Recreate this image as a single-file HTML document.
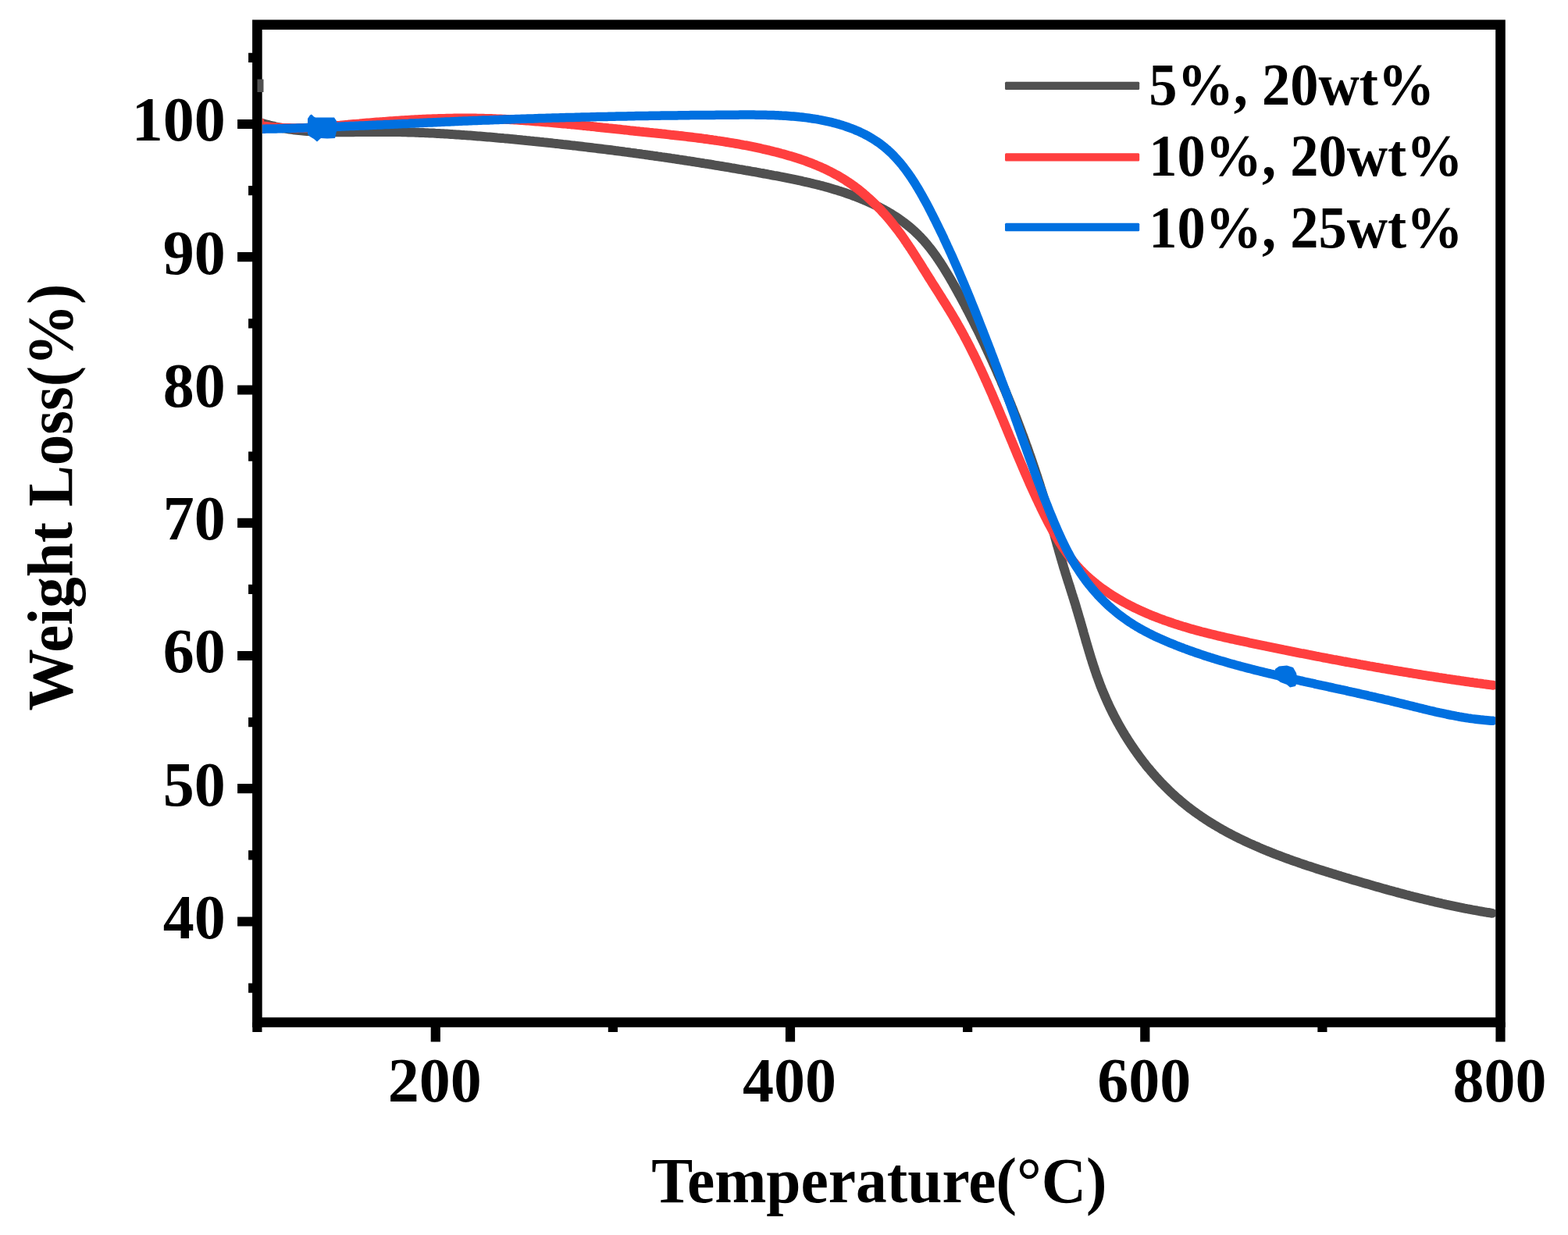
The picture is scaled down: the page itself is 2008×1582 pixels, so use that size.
<!DOCTYPE html>
<html><head><meta charset="utf-8"><title>TGA</title>
<style>html,body{margin:0;padding:0;background:#fff;width:2008px;height:1582px;overflow:hidden}svg{display:block}</style>
</head><body>
<svg width="2008" height="1582" viewBox="0 0 2008 1582">
<defs><clipPath id="pc"><rect x="336" y="38" width="1579" height="1265"/></clipPath></defs>
<rect width="2008" height="1582" fill="#fff"/>
<g clip-path="url(#pc)" stroke-linecap="round">
<path d="M335.3 157.8 337.8 158.5 340.4 159.2 342.9 159.9 345.4 160.6 347.9 161.2 350.4 161.7 352.9 162.3 355.4 162.8 357.9 163.3 360.4 163.8 362.9 164.3 365.4 164.7 367.9 165.1 370.4 165.5 372.9 165.8 375.4 166.2 377.9 166.5 380.4 166.8 382.9 167.1 385.4 167.3 387.9 167.5 390.4 167.8 392.9 168.0 395.4 168.1 397.9 168.3 400.4 168.5 402.9 168.6 405.4 168.7 407.9 168.8 410.4 168.9 412.9 169.0 415.4 169.1 417.9 169.1 420.4 169.2 422.9 169.2 425.4 169.3 427.9 169.3 430.4 169.3 432.9 169.3 435.4 169.3 437.9 169.3 440.4 169.3 442.9 169.3 445.4 169.3 447.9 169.2 450.4 169.2 452.8 169.2 455.3 169.1 457.8 169.1 460.3 169.1 462.8 169.0 465.3 169.0 467.8 169.0 470.3 169.0 472.8 168.9 475.3 168.9 477.8 168.9 480.3 168.9 482.8 168.9 485.2 168.9 487.7 168.9 490.2 168.9 492.7 168.9 495.2 168.9 497.7 168.9 500.2 168.9 502.7 169.0 505.2 169.0 507.7 169.1 510.1 169.1 512.6 169.1 515.1 169.2 517.6 169.3 520.1 169.3 522.6 169.4 525.1 169.5 527.6 169.5 530.1 169.6 532.5 169.7 535.0 169.8 537.5 169.9 540.0 170.0 542.5 170.1 545.0 170.2 547.5 170.3 549.9 170.4 552.4 170.5 554.9 170.6 557.4 170.8 559.9 170.9 562.4 171.0 564.9 171.2 567.3 171.3 569.8 171.5 572.3 171.6 574.8 171.7 577.3 171.9 579.8 172.1 582.2 172.2 584.7 172.4 587.2 172.5 589.7 172.7 592.2 172.9 594.7 173.1 597.1 173.2 599.6 173.4 602.1 173.6 604.6 173.8 607.1 174.0 609.6 174.2 612.0 174.4 614.5 174.6 617.0 174.8 619.5 175.0 622.0 175.2 624.4 175.4 626.9 175.6 629.4 175.8 631.9 176.0 634.4 176.2 636.9 176.5 639.3 176.7 641.8 176.9 644.3 177.1 646.8 177.4 649.3 177.6 651.7 177.8 654.2 178.1 656.7 178.3 659.2 178.5 661.7 178.8 664.1 179.0 666.6 179.2 669.1 179.5 671.6 179.7 674.0 180.0 676.5 180.2 679.0 180.5 681.5 180.7 684.0 181.0 686.4 181.2 688.9 181.5 691.4 181.8 693.9 182.0 696.4 182.3 698.8 182.5 701.3 182.8 703.8 183.1 706.3 183.3 708.7 183.6 711.2 183.9 713.7 184.1 716.2 184.4 718.7 184.7 721.1 185.0 723.6 185.2 726.1 185.5 728.6 185.8 731.0 186.1 733.5 186.4 736.0 186.6 738.5 186.9 741.0 187.2 743.4 187.5 745.9 187.8 748.4 188.1 750.9 188.4 753.3 188.7 755.8 189.0 758.3 189.3 760.8 189.6 763.3 189.9 765.7 190.2 768.2 190.5 770.7 190.8 773.2 191.1 775.6 191.4 778.1 191.7 780.6 192.0 783.1 192.3 785.5 192.6 788.0 193.0 790.5 193.3 793.0 193.6 795.4 193.9 797.9 194.2 800.4 194.6 802.9 194.9 805.4 195.2 807.8 195.6 810.3 195.9 812.8 196.2 815.3 196.6 817.7 196.9 820.2 197.2 822.7 197.6 825.2 197.9 827.6 198.3 830.1 198.6 832.6 199.0 835.1 199.3 837.6 199.7 840.0 200.0 842.5 200.4 845.0 200.7 847.5 201.1 849.9 201.4 852.4 201.8 854.9 202.1 857.4 202.5 859.8 202.9 862.3 203.2 864.8 203.6 867.3 204.0 869.8 204.4 872.2 204.7 874.7 205.1 877.2 205.5 879.7 205.9 882.1 206.2 884.6 206.6 887.1 207.0 889.6 207.4 892.0 207.8 894.5 208.2 897.0 208.6 899.5 209.0 902.0 209.4 904.4 209.7 906.9 210.1 909.4 210.5 911.9 210.9 914.3 211.4 916.8 211.8 919.3 212.2 921.8 212.6 924.3 213.0 926.7 213.4 929.2 213.8 931.7 214.2 934.2 214.6 936.7 215.1 939.1 215.5 941.6 215.9 944.1 216.3 946.6 216.8 949.1 217.2 951.5 217.6 954.0 218.1 956.5 218.5 959.0 218.9 961.4 219.4 963.9 219.8 966.4 220.2 968.9 220.7 971.4 221.1 973.8 221.6 976.3 222.0 978.8 222.5 981.3 222.9 983.8 223.4 986.3 223.8 988.7 224.3 991.2 224.8 993.7 225.2 996.2 225.7 998.6 226.2 1001.1 226.6 1003.6 227.1 1006.1 227.6 1008.5 228.1 1011.0 228.6 1013.5 229.1 1016.0 229.6 1018.4 230.1 1020.9 230.6 1023.3 231.2 1025.8 231.7 1028.3 232.3 1030.7 232.8 1033.2 233.4 1035.6 233.9 1038.0 234.5 1040.5 235.1 1042.9 235.7 1045.3 236.3 1047.8 236.9 1050.2 237.5 1052.6 238.1 1055.0 238.8 1057.4 239.4 1059.8 240.1 1062.2 240.8 1064.6 241.5 1067.0 242.2 1069.4 242.9 1071.8 243.6 1074.1 244.4 1076.5 245.1 1078.9 245.9 1081.2 246.7 1083.6 247.5 1085.9 248.3 1088.2 249.1 1090.6 249.9 1092.9 250.8 1095.2 251.7 1097.5 252.5 1099.8 253.5 1102.1 254.4 1104.4 255.3 1106.6 256.3 1108.9 257.2 1111.2 258.2 1113.4 259.2 1115.6 260.3 1117.9 261.3 1120.1 262.4 1122.3 263.5 1124.5 264.6 1126.7 265.7 1128.9 266.9 1131.1 268.0 1133.2 269.2 1135.4 270.4 1137.5 271.7 1139.6 272.9 1141.7 274.2 1143.8 275.5 1145.9 276.8 1147.9 278.1 1150.0 279.5 1152.0 280.9 1154.0 282.3 1156.0 283.8 1158.0 285.2 1159.9 286.7 1161.8 288.2 1163.7 289.8 1165.6 291.3 1167.5 292.9 1169.3 294.5 1171.1 296.2 1172.9 297.9 1174.7 299.6 1176.4 301.3 1178.2 303.0 1179.8 304.8 1181.5 306.6 1183.2 308.4 1184.8 310.3 1186.4 312.2 1188.0 314.1 1189.5 316.0 1191.1 317.9 1192.6 319.9 1194.1 321.9 1195.6 323.9 1197.0 325.9 1198.5 327.9 1199.9 330.0 1201.3 332.0 1202.7 334.1 1204.1 336.2 1205.5 338.3 1206.8 340.4 1208.2 342.5 1209.5 344.7 1210.8 346.8 1212.1 349.0 1213.4 351.1 1214.7 353.3 1216.0 355.5 1217.3 357.6 1218.5 359.8 1219.8 362.0 1221.0 364.2 1222.3 366.4 1223.5 368.6 1224.7 370.7 1225.9 372.9 1227.1 375.1 1228.3 377.3 1229.5 379.5 1230.7 381.7 1231.9 383.9 1233.1 386.1 1234.3 388.3 1235.5 390.5 1236.6 392.8 1237.8 395.0 1238.9 397.2 1240.1 399.4 1241.2 401.6 1242.4 403.8 1243.5 406.1 1244.6 408.3 1245.8 410.5 1246.9 412.7 1248.0 415.0 1249.1 417.2 1250.2 419.4 1251.4 421.7 1252.5 423.9 1253.6 426.2 1254.7 428.4 1255.7 430.7 1256.8 432.9 1257.9 435.2 1259.0 437.4 1260.1 439.7 1261.2 442.0 1262.2 444.2 1263.3 446.5 1264.4 448.8 1265.4 451.1 1266.5 453.3 1267.5 455.6 1268.6 457.9 1269.6 460.2 1270.7 462.5 1271.7 464.7 1272.7 467.0 1273.8 469.3 1274.8 471.6 1275.8 473.9 1276.8 476.2 1277.8 478.5 1278.8 480.8 1279.8 483.1 1280.9 485.4 1281.9 487.7 1282.8 490.1 1283.8 492.4 1284.8 494.7 1285.8 497.0 1286.8 499.3 1287.8 501.6 1288.7 504.0 1289.7 506.3 1290.7 508.6 1291.6 510.9 1292.6 513.3 1293.5 515.6 1294.5 517.9 1295.4 520.3 1296.3 522.6 1297.3 524.9 1298.2 527.3 1299.1 529.6 1300.1 532.0 1301.0 534.3 1301.9 536.7 1302.8 539.0 1303.7 541.4 1304.6 543.7 1305.5 546.1 1306.4 548.4 1307.3 550.8 1308.2 553.1 1309.0 555.5 1309.9 557.8 1310.8 560.2 1311.7 562.6 1312.5 564.9 1313.4 567.3 1314.2 569.7 1315.1 572.0 1315.9 574.4 1316.8 576.8 1317.6 579.1 1318.4 581.5 1319.3 583.9 1320.1 586.2 1320.9 588.6 1321.7 591.0 1322.5 593.4 1323.3 595.7 1324.1 598.1 1324.9 600.5 1325.7 602.9 1326.5 605.3 1327.3 607.6 1328.1 610.0 1328.8 612.4 1329.6 614.8 1330.4 617.2 1331.1 619.5 1331.9 621.9 1332.6 624.3 1333.4 626.7 1334.1 629.1 1334.9 631.5 1335.6 633.9 1336.3 636.3 1337.0 638.6 1337.7 641.0 1338.5 643.4 1339.2 645.8 1339.9 648.2 1340.6 650.6 1341.3 653.0 1341.9 655.4 1342.6 657.8 1343.3 660.2 1344.0 662.6 1344.7 664.9 1345.3 667.3 1346.0 669.7 1346.7 672.1 1347.3 674.5 1348.0 676.9 1348.7 679.3 1349.3 681.7 1350.0 684.1 1350.7 686.5 1351.3 688.9 1352.0 691.3 1352.7 693.7 1353.3 696.1 1354.0 698.5 1354.7 700.8 1355.4 703.2 1356.0 705.6 1356.7 708.0 1357.4 710.4 1358.1 712.8 1358.8 715.2 1359.5 717.6 1360.2 720.0 1360.9 722.4 1361.6 724.8 1362.3 727.2 1363.1 729.5 1363.8 731.9 1364.5 734.3 1365.3 736.7 1366.0 739.1 1366.8 741.5 1367.5 743.9 1368.3 746.3 1369.1 748.6 1369.8 751.0 1370.6 753.4 1371.3 755.8 1372.1 758.2 1372.8 760.6 1373.6 762.9 1374.3 765.3 1375.1 767.7 1375.8 770.1 1376.6 772.5 1377.3 774.8 1378.0 777.2 1378.7 779.6 1379.4 782.0 1380.1 784.3 1380.8 786.7 1381.5 789.1 1382.2 791.4 1382.9 793.8 1383.6 796.2 1384.3 798.6 1384.9 800.9 1385.6 803.3 1386.3 805.6 1387.0 808.0 1387.6 810.4 1388.3 812.7 1389.0 815.1 1389.7 817.4 1390.3 819.8 1391.0 822.2 1391.7 824.5 1392.4 826.9 1393.1 829.2 1393.8 831.6 1394.5 833.9 1395.2 836.2 1395.9 838.6 1396.6 840.9 1397.3 843.3 1398.1 845.6 1398.8 848.0 1399.5 850.3 1400.3 852.6 1401.1 855.0 1401.8 857.3 1402.6 859.6 1403.4 861.9 1404.2 864.3 1405.0 866.6 1405.9 868.9 1406.7 871.2 1407.6 873.6 1408.4 875.9 1409.3 878.2 1410.2 880.5 1411.1 882.8 1412.1 885.1 1413.0 887.4 1414.0 889.7 1415.0 892.0 1416.0 894.3 1417.0 896.6 1418.0 898.9 1419.0 901.2 1420.1 903.5 1421.2 905.8 1422.3 908.1 1423.4 910.3 1424.5 912.6 1425.7 914.9 1426.8 917.1 1428.0 919.4 1429.2 921.6 1430.4 923.9 1431.6 926.1 1432.9 928.4 1434.1 930.6 1435.4 932.8 1436.7 935.0 1438.0 937.2 1439.3 939.4 1440.6 941.6 1442.0 943.8 1443.4 946.0 1444.7 948.1 1446.1 950.3 1447.5 952.4 1448.9 954.6 1450.4 956.7 1451.8 958.8 1453.3 960.9 1454.8 963.0 1456.2 965.1 1457.7 967.2 1459.3 969.3 1460.8 971.3 1462.3 973.3 1463.9 975.4 1465.5 977.4 1467.0 979.4 1468.6 981.4 1470.2 983.4 1471.9 985.3 1473.5 987.3 1475.1 989.2 1476.8 991.2 1478.5 993.1 1480.2 995.0 1481.9 996.8 1483.6 998.7 1485.3 1000.6 1487.0 1002.4 1488.8 1004.2 1490.5 1006.0 1492.3 1007.8 1494.1 1009.6 1495.8 1011.3 1497.6 1013.1 1499.5 1014.8 1501.3 1016.5 1503.1 1018.2 1505.0 1019.8 1506.8 1021.5 1508.7 1023.1 1510.6 1024.7 1512.4 1026.3 1514.3 1027.9 1516.2 1029.5 1518.2 1031.0 1520.1 1032.6 1522.0 1034.1 1524.0 1035.6 1525.9 1037.0 1527.9 1038.5 1529.9 1040.0 1531.9 1041.4 1533.9 1042.8 1535.9 1044.2 1537.9 1045.6 1539.9 1047.0 1541.9 1048.3 1544.0 1049.7 1546.0 1051.0 1548.1 1052.3 1550.1 1053.6 1552.2 1054.9 1554.3 1056.2 1556.4 1057.4 1558.5 1058.7 1560.6 1059.9 1562.7 1061.1 1564.8 1062.4 1567.0 1063.6 1569.1 1064.7 1571.3 1065.9 1573.4 1067.1 1575.6 1068.2 1577.7 1069.4 1579.9 1070.5 1582.1 1071.6 1584.3 1072.7 1586.5 1073.8 1588.7 1074.9 1590.9 1075.9 1593.1 1077.0 1595.3 1078.0 1597.6 1079.1 1599.8 1080.1 1602.0 1081.1 1604.3 1082.1 1606.5 1083.1 1608.8 1084.1 1611.1 1085.1 1613.3 1086.1 1615.6 1087.1 1617.9 1088.0 1620.2 1089.0 1622.5 1089.9 1624.8 1090.8 1627.1 1091.7 1629.4 1092.7 1631.7 1093.6 1634.0 1094.5 1636.3 1095.4 1638.6 1096.2 1641.0 1097.1 1643.3 1098.0 1645.6 1098.9 1648.0 1099.7 1650.3 1100.6 1652.7 1101.4 1655.1 1102.3 1657.4 1103.1 1659.8 1103.9 1662.1 1104.7 1664.5 1105.6 1666.9 1106.4 1669.3 1107.2 1671.7 1108.0 1674.0 1108.8 1676.4 1109.6 1678.8 1110.3 1681.2 1111.1 1683.6 1111.9 1686.0 1112.7 1688.4 1113.5 1690.8 1114.2 1693.3 1115.0 1695.7 1115.8 1698.1 1116.5 1700.5 1117.3 1702.9 1118.0 1705.3 1118.8 1707.8 1119.5 1710.2 1120.3 1712.6 1121.0 1715.1 1121.7 1717.5 1122.5 1719.9 1123.2 1722.4 1124.0 1724.8 1124.7 1727.3 1125.4 1729.7 1126.2 1732.1 1126.9 1734.6 1127.6 1737.0 1128.3 1739.5 1129.1 1741.9 1129.8 1744.4 1130.5 1746.8 1131.2 1749.3 1131.9 1751.7 1132.6 1754.2 1133.3 1756.6 1134.0 1759.1 1134.7 1761.5 1135.4 1764.0 1136.1 1766.4 1136.8 1768.9 1137.5 1771.3 1138.2 1773.8 1138.9 1776.3 1139.6 1778.7 1140.3 1781.2 1140.9 1783.6 1141.6 1786.1 1142.3 1788.5 1142.9 1791.0 1143.6 1793.4 1144.2 1795.9 1144.9 1798.3 1145.5 1800.8 1146.2 1803.2 1146.8 1805.6 1147.5 1808.1 1148.1 1810.5 1148.7 1813.0 1149.3 1815.4 1149.9 1817.8 1150.6 1820.3 1151.2 1822.7 1151.8 1825.2 1152.4 1827.6 1152.9 1830.0 1153.5 1832.4 1154.1 1834.9 1154.7 1837.3 1155.3 1839.7 1155.8 1842.1 1156.4 1844.5 1156.9 1846.9 1157.5 1849.3 1158.0 1851.7 1158.6 1854.2 1159.1 1856.5 1159.6 1858.9 1160.1 1861.3 1160.6 1863.7 1161.1 1866.1 1161.6 1868.5 1162.1 1870.9 1162.6 1873.3 1163.1 1875.6 1163.6 1878.0 1164.0 1880.4 1164.5 1882.7 1164.9 1885.1 1165.4 1887.4 1165.8 1889.8 1166.2 1892.1 1166.7 1894.5 1167.1 1896.8 1167.5 1899.1 1167.9 1901.4 1168.3 1903.8 1168.7 1906.1 1169.0 1908.4 1169.4 1910.7 1169.8" fill="none" stroke="#505050" stroke-width="12" stroke-linejoin="round" />
<path d="M330 160L331 148.5L334 150L338 153L338 161Z" fill="#ff3f3f"/>
<path d="M335.8 161.3 338.3 161.7 340.8 162.0 343.3 162.3 345.8 162.6 348.3 162.9 350.8 163.1 353.3 163.3 355.9 163.5 358.4 163.7 360.9 163.8 363.4 163.9 365.9 164.0 368.4 164.1 370.9 164.1 373.4 164.2 375.8 164.2 378.3 164.2 380.8 164.2 383.3 164.1 385.8 164.1 388.3 164.0 390.8 163.9 393.3 163.8 395.8 163.7 398.3 163.5 400.8 163.4 403.3 163.3 405.7 163.1 408.2 162.9 410.7 162.7 413.2 162.6 415.7 162.4 418.2 162.2 420.7 162.0 423.1 161.8 425.6 161.5 428.1 161.3 430.6 161.1 433.1 160.9 435.5 160.7 438.0 160.4 440.5 160.2 443.0 160.0 445.5 159.8 447.9 159.5 450.4 159.3 452.9 159.1 455.4 158.9 457.9 158.7 460.3 158.5 462.8 158.2 465.3 158.0 467.8 157.8 470.2 157.6 472.7 157.4 475.2 157.2 477.7 157.0 480.1 156.8 482.6 156.6 485.1 156.4 487.6 156.2 490.0 156.1 492.5 155.9 495.0 155.7 497.5 155.5 499.9 155.3 502.4 155.2 504.9 155.0 507.4 154.8 509.8 154.7 512.3 154.5 514.8 154.3 517.3 154.2 519.7 154.0 522.2 153.9 524.7 153.7 527.2 153.6 529.7 153.5 532.1 153.3 534.6 153.2 537.1 153.1 539.6 153.0 542.0 152.8 544.5 152.7 547.0 152.6 549.5 152.5 551.9 152.4 554.4 152.3 556.9 152.3 559.4 152.2 561.9 152.1 564.3 152.0 566.8 151.9 569.3 151.9 571.8 151.8 574.3 151.8 576.8 151.7 579.2 151.7 581.7 151.6 584.2 151.6 586.7 151.6 589.2 151.6 591.7 151.6 594.1 151.5 596.6 151.5 599.1 151.6 601.6 151.6 604.1 151.6 606.6 151.6 609.1 151.6 611.6 151.7 614.1 151.7 616.6 151.8 619.0 151.8 621.5 151.9 624.0 151.9 626.5 152.0 629.0 152.1 631.5 152.2 634.0 152.3 636.5 152.4 639.0 152.5 641.5 152.6 644.0 152.7 646.5 152.8 649.0 152.9 651.5 153.1 654.0 153.2 656.5 153.3 659.0 153.5 661.5 153.6 664.0 153.8 666.5 153.9 669.0 154.1 671.5 154.3 674.0 154.4 676.5 154.6 679.0 154.8 681.6 155.0 684.1 155.2 686.6 155.4 689.1 155.6 691.6 155.8 694.1 156.0 696.6 156.2 699.1 156.4 701.6 156.6 704.1 156.8 706.6 157.0 709.1 157.2 711.6 157.5 714.1 157.7 716.6 157.9 719.2 158.2 721.7 158.4 724.2 158.6 726.7 158.9 729.2 159.1 731.7 159.4 734.2 159.6 736.7 159.8 739.2 160.1 741.7 160.3 744.2 160.6 746.7 160.9 749.2 161.1 751.7 161.4 754.2 161.6 756.7 161.9 759.3 162.1 761.8 162.4 764.3 162.7 766.8 162.9 769.3 163.2 771.8 163.5 774.3 163.7 776.8 164.0 779.3 164.3 781.8 164.5 784.3 164.8 786.8 165.1 789.3 165.3 791.8 165.6 794.3 165.8 796.8 166.1 799.3 166.4 801.8 166.6 804.3 166.9 806.8 167.2 809.3 167.4 811.8 167.7 814.3 168.0 816.8 168.2 819.3 168.5 821.7 168.7 824.2 169.0 826.7 169.2 829.2 169.5 831.7 169.8 834.2 170.0 836.7 170.3 839.2 170.5 841.7 170.8 844.2 171.1 846.6 171.3 849.1 171.6 851.6 171.8 854.1 172.1 856.6 172.4 859.0 172.7 861.5 172.9 864.0 173.2 866.5 173.5 869.0 173.8 871.4 174.0 873.9 174.3 876.4 174.6 878.9 174.9 881.3 175.2 883.8 175.5 886.3 175.8 888.7 176.1 891.2 176.4 893.7 176.7 896.1 177.0 898.6 177.3 901.1 177.7 903.5 178.0 906.0 178.3 908.4 178.7 910.9 179.0 913.4 179.4 915.8 179.7 918.3 180.1 920.7 180.4 923.2 180.8 925.6 181.2 928.1 181.6 930.5 182.0 932.9 182.4 935.4 182.8 937.8 183.2 940.3 183.6 942.7 184.0 945.1 184.4 947.6 184.9 950.0 185.3 952.4 185.8 954.9 186.2 957.3 186.7 959.7 187.2 962.2 187.7 964.6 188.2 967.0 188.7 969.4 189.2 971.8 189.7 974.3 190.2 976.7 190.8 979.1 191.3 981.5 191.9 983.9 192.4 986.3 193.0 988.7 193.6 991.1 194.2 993.5 194.8 995.9 195.4 998.3 196.0 1000.7 196.7 1003.1 197.3 1005.5 198.0 1007.9 198.7 1010.3 199.4 1012.7 200.1 1015.0 200.8 1017.4 201.5 1019.8 202.3 1022.1 203.0 1024.5 203.8 1026.8 204.6 1029.2 205.4 1031.5 206.2 1033.8 207.1 1036.1 208.0 1038.5 208.8 1040.8 209.7 1043.1 210.7 1045.4 211.6 1047.6 212.6 1049.9 213.5 1052.2 214.5 1054.4 215.6 1056.7 216.6 1058.9 217.7 1061.2 218.8 1063.4 219.9 1065.6 221.0 1067.8 222.2 1070.0 223.4 1072.2 224.6 1074.3 225.8 1076.5 227.1 1078.6 228.4 1080.8 229.7 1082.9 231.0 1085.0 232.4 1087.1 233.8 1089.2 235.2 1091.2 236.6 1093.3 238.1 1095.3 239.6 1097.3 241.2 1099.4 242.7 1101.3 244.3 1103.3 245.9 1105.3 247.5 1107.2 249.2 1109.2 250.9 1111.1 252.6 1113.0 254.3 1114.9 256.0 1116.7 257.8 1118.6 259.5 1120.4 261.3 1122.2 263.1 1124.0 264.9 1125.8 266.8 1127.6 268.6 1129.3 270.5 1131.0 272.4 1132.7 274.2 1134.4 276.1 1136.1 278.0 1137.7 279.9 1139.4 281.9 1141.0 283.8 1142.5 285.7 1144.1 287.7 1145.6 289.6 1147.1 291.6 1148.6 293.5 1150.1 295.5 1151.6 297.5 1153.0 299.4 1154.5 301.4 1155.9 303.4 1157.3 305.4 1158.7 307.4 1160.0 309.4 1161.4 311.4 1162.7 313.4 1164.1 315.4 1165.4 317.4 1166.8 319.4 1168.1 321.5 1169.4 323.5 1170.7 325.5 1172.0 327.6 1173.3 329.6 1174.6 331.7 1175.9 333.7 1177.2 335.8 1178.5 337.8 1179.8 339.9 1181.1 342.0 1182.3 344.1 1183.6 346.1 1185.0 348.2 1186.3 350.3 1187.6 352.4 1188.9 354.5 1190.2 356.6 1191.6 358.7 1192.9 360.8 1194.2 363.0 1195.6 365.1 1196.9 367.2 1198.3 369.3 1199.6 371.4 1201.0 373.6 1202.3 375.7 1203.7 377.9 1205.0 380.0 1206.4 382.2 1207.7 384.3 1209.1 386.5 1210.4 388.6 1211.8 390.8 1213.1 393.0 1214.4 395.1 1215.8 397.3 1217.1 399.5 1218.4 401.6 1219.7 403.8 1221.0 406.0 1222.3 408.2 1223.6 410.4 1224.8 412.6 1226.1 414.8 1227.3 417.0 1228.6 419.2 1229.8 421.4 1231.0 423.6 1232.3 425.8 1233.5 428.0 1234.7 430.3 1235.8 432.5 1237.0 434.7 1238.2 436.9 1239.4 439.2 1240.5 441.4 1241.7 443.6 1242.8 445.9 1243.9 448.1 1245.0 450.3 1246.2 452.6 1247.3 454.8 1248.4 457.1 1249.5 459.3 1250.6 461.6 1251.6 463.8 1252.7 466.1 1253.8 468.3 1254.8 470.6 1255.9 472.8 1257.0 475.1 1258.0 477.4 1259.0 479.6 1260.1 481.9 1261.1 484.2 1262.1 486.4 1263.2 488.7 1264.2 491.0 1265.2 493.3 1266.2 495.5 1267.2 497.8 1268.2 500.1 1269.2 502.4 1270.2 504.6 1271.2 506.9 1272.1 509.2 1273.1 511.5 1274.1 513.8 1275.1 516.1 1276.1 518.3 1277.0 520.6 1278.0 522.9 1279.0 525.2 1279.9 527.5 1280.9 529.8 1281.8 532.1 1282.8 534.4 1283.8 536.6 1284.7 538.9 1285.7 541.2 1286.6 543.5 1287.6 545.8 1288.5 548.1 1289.5 550.4 1290.4 552.7 1291.4 555.0 1292.3 557.3 1293.3 559.6 1294.2 561.9 1295.2 564.1 1296.1 566.4 1297.1 568.7 1298.0 571.0 1299.0 573.3 1299.9 575.6 1300.9 577.9 1301.8 580.2 1302.8 582.5 1303.8 584.8 1304.7 587.0 1305.7 589.3 1306.7 591.6 1307.6 593.9 1308.6 596.2 1309.6 598.5 1310.6 600.8 1311.5 603.0 1312.5 605.3 1313.5 607.6 1314.5 609.9 1315.5 612.2 1316.5 614.4 1317.5 616.7 1318.5 619.0 1319.5 621.3 1320.5 623.5 1321.6 625.8 1322.6 628.1 1323.6 630.3 1324.7 632.6 1325.7 634.9 1326.7 637.1 1327.8 639.4 1328.9 641.6 1329.9 643.9 1331.0 646.2 1332.1 648.4 1333.1 650.7 1334.2 652.9 1335.3 655.2 1336.4 657.4 1337.5 659.6 1338.7 661.9 1339.8 664.1 1340.9 666.3 1342.1 668.6 1343.2 670.8 1344.4 673.0 1345.6 675.2 1346.8 677.4 1348.0 679.6 1349.2 681.7 1350.4 683.9 1351.7 686.1 1353.0 688.2 1354.2 690.3 1355.5 692.5 1356.8 694.6 1358.2 696.7 1359.5 698.8 1360.9 700.8 1362.3 702.9 1363.7 704.9 1365.1 706.9 1366.5 709.0 1368.0 710.9 1369.5 712.9 1371.0 714.9 1372.5 716.8 1374.0 718.7 1375.6 720.6 1377.2 722.5 1378.8 724.4 1380.4 726.2 1382.1 728.1 1383.8 729.9 1385.5 731.6 1387.3 733.4 1389.0 735.1 1390.8 736.8 1392.6 738.5 1394.5 740.2 1396.3 741.8 1398.2 743.4 1400.1 745.0 1402.1 746.6 1404.0 748.2 1406.0 749.7 1407.9 751.2 1409.9 752.7 1411.9 754.2 1414.0 755.6 1416.0 757.0 1418.1 758.5 1420.1 759.8 1422.2 761.2 1424.3 762.6 1426.4 763.9 1428.5 765.2 1430.7 766.5 1432.8 767.7 1435.0 769.0 1437.1 770.2 1439.3 771.4 1441.4 772.6 1443.6 773.8 1445.8 774.9 1448.0 776.1 1450.2 777.2 1452.4 778.3 1454.7 779.4 1456.9 780.4 1459.1 781.5 1461.4 782.5 1463.6 783.5 1465.9 784.5 1468.1 785.5 1470.4 786.5 1472.7 787.4 1475.0 788.4 1477.3 789.3 1479.6 790.2 1481.9 791.1 1484.2 792.0 1486.5 792.9 1488.8 793.7 1491.1 794.6 1493.5 795.4 1495.8 796.2 1498.1 797.0 1500.5 797.8 1502.8 798.6 1505.2 799.4 1507.6 800.1 1509.9 800.9 1512.3 801.6 1514.7 802.4 1517.1 803.1 1519.5 803.8 1521.8 804.5 1524.2 805.2 1526.6 805.9 1529.0 806.5 1531.4 807.2 1533.9 807.9 1536.3 808.5 1538.7 809.2 1541.1 809.8 1543.5 810.4 1545.9 811.0 1548.4 811.6 1550.8 812.2 1553.2 812.8 1555.7 813.4 1558.1 814.0 1560.5 814.6 1563.0 815.2 1565.4 815.7 1567.9 816.3 1570.3 816.9 1572.8 817.4 1575.2 818.0 1577.7 818.5 1580.1 819.0 1582.6 819.6 1585.0 820.1 1587.5 820.6 1589.9 821.2 1592.4 821.7 1594.8 822.2 1597.3 822.7 1599.7 823.3 1602.2 823.8 1604.7 824.3 1607.1 824.8 1609.6 825.3 1612.0 825.8 1614.5 826.3 1616.9 826.8 1619.4 827.3 1621.8 827.9 1624.3 828.4 1626.7 828.9 1629.2 829.4 1631.6 829.9 1634.1 830.4 1636.5 830.9 1639.0 831.4 1641.4 831.9 1643.9 832.4 1646.3 832.8 1648.8 833.3 1651.2 833.8 1653.7 834.3 1656.1 834.8 1658.6 835.3 1661.0 835.8 1663.5 836.3 1665.9 836.8 1668.4 837.2 1670.8 837.7 1673.3 838.2 1675.7 838.7 1678.2 839.1 1680.6 839.6 1683.1 840.1 1685.5 840.6 1688.0 841.0 1690.4 841.5 1692.8 842.0 1695.3 842.5 1697.7 842.9 1700.2 843.4 1702.6 843.8 1705.1 844.3 1707.5 844.8 1710.0 845.2 1712.4 845.7 1714.9 846.1 1717.3 846.6 1719.8 847.1 1722.2 847.5 1724.7 848.0 1727.1 848.4 1729.6 848.9 1732.0 849.3 1734.5 849.7 1736.9 850.2 1739.4 850.6 1741.8 851.1 1744.3 851.5 1746.7 852.0 1749.2 852.4 1751.6 852.8 1754.1 853.3 1756.5 853.7 1759.0 854.1 1761.4 854.6 1763.9 855.0 1766.3 855.4 1768.8 855.8 1771.2 856.3 1773.7 856.7 1776.1 857.1 1778.6 857.5 1781.0 857.9 1783.5 858.4 1786.0 858.8 1788.4 859.2 1790.9 859.6 1793.3 860.0 1795.8 860.4 1798.2 860.8 1800.7 861.2 1803.2 861.6 1805.6 862.0 1808.1 862.4 1810.5 862.8 1813.0 863.2 1815.5 863.6 1817.9 864.0 1820.4 864.4 1822.8 864.8 1825.3 865.2 1827.8 865.6 1830.2 866.0 1832.7 866.3 1835.2 866.7 1837.6 867.1 1840.1 867.5 1842.6 867.9 1845.0 868.2 1847.5 868.6 1850.0 869.0 1852.5 869.4 1854.9 869.7 1857.4 870.1 1859.9 870.5 1862.4 870.8 1864.8 871.2 1867.3 871.5 1869.8 871.9 1872.3 872.3 1874.7 872.6 1877.2 873.0 1879.7 873.3 1882.2 873.7 1884.7 874.0 1887.2 874.4 1889.6 874.7 1892.1 875.1 1894.6 875.4 1897.1 875.7 1899.6 876.1 1902.1 876.4 1904.6 876.8 1907.1 877.1 1909.6 877.4 1912.0 877.7" fill="none" stroke="#ff3f3f" stroke-width="12" stroke-linejoin="round" />
<path d="M336.2 165.2 338.7 165.2 341.2 165.1 343.6 165.1 346.1 165.0 348.5 165.0 351.0 164.9 353.5 164.9 356.0 164.8 358.4 164.8 360.9 164.7 363.4 164.6 365.8 164.6 368.3 164.5 370.8 164.4 373.3 164.3 375.8 164.3 378.2 164.2 380.7 164.1 383.2 164.0 385.7 164.0 388.2 163.9 390.7 163.8 393.1 163.7 395.6 163.6 398.1 163.6 400.6 163.5 403.1 163.4 405.6 163.3 408.1 163.2 410.6 163.1 413.1 163.0 415.6 162.9 418.1 162.8 420.6 162.7 423.1 162.6 425.6 162.5 428.0 162.5 430.5 162.4 433.0 162.3 435.5 162.2 438.0 162.0 440.5 161.9 443.0 161.8 445.6 161.7 448.1 161.6 450.6 161.5 453.1 161.4 455.6 161.3 458.1 161.2 460.6 161.1 463.1 161.0 465.6 160.9 468.1 160.8 470.6 160.7 473.1 160.5 475.6 160.4 478.1 160.3 480.6 160.2 483.1 160.1 485.6 160.0 488.1 159.9 490.7 159.8 493.2 159.6 495.7 159.5 498.2 159.4 500.7 159.3 503.2 159.2 505.7 159.1 508.2 159.0 510.7 158.8 513.2 158.7 515.7 158.6 518.2 158.5 520.7 158.4 523.3 158.3 525.8 158.1 528.3 158.0 530.8 157.9 533.3 157.8 535.8 157.7 538.3 157.6 540.8 157.5 543.3 157.3 545.8 157.2 548.3 157.1 550.8 157.0 553.3 156.9 555.8 156.8 558.3 156.7 560.8 156.5 563.3 156.4 565.8 156.3 568.3 156.2 570.8 156.1 573.4 156.0 575.9 155.9 578.4 155.8 580.8 155.7 583.3 155.6 585.8 155.5 588.3 155.3 590.8 155.2 593.3 155.1 595.8 155.0 598.3 154.9 600.8 154.8 603.3 154.7 605.8 154.6 608.3 154.5 610.8 154.4 613.3 154.3 615.8 154.2 618.3 154.1 620.7 154.0 623.2 153.9 625.7 153.9 628.2 153.8 630.7 153.7 633.2 153.6 635.7 153.5 638.2 153.4 640.6 153.3 643.1 153.2 645.6 153.1 648.1 153.0 650.6 152.9 653.1 152.9 655.5 152.8 658.0 152.7 660.5 152.6 663.0 152.5 665.5 152.4 668.0 152.3 670.4 152.3 672.9 152.2 675.4 152.1 677.9 152.0 680.4 151.9 682.8 151.9 685.3 151.8 687.8 151.7 690.3 151.6 692.8 151.6 695.2 151.5 697.7 151.4 700.2 151.3 702.7 151.3 705.2 151.2 707.6 151.1 710.1 151.0 712.6 151.0 715.1 150.9 717.6 150.8 720.0 150.8 722.5 150.7 725.0 150.6 727.5 150.6 729.9 150.5 732.4 150.4 734.9 150.4 737.4 150.3 739.9 150.2 742.3 150.2 744.8 150.1 747.3 150.1 749.8 150.0 752.3 149.9 754.8 149.9 757.2 149.8 759.7 149.8 762.2 149.7 764.7 149.6 767.2 149.6 769.6 149.5 772.1 149.5 774.6 149.4 777.1 149.4 779.6 149.3 782.1 149.3 784.6 149.2 787.0 149.2 789.5 149.1 792.0 149.1 794.5 149.0 797.0 149.0 799.5 148.9 802.0 148.9 804.5 148.8 806.9 148.8 809.4 148.7 811.9 148.7 814.4 148.6 816.9 148.6 819.4 148.6 821.9 148.5 824.4 148.5 826.9 148.4 829.4 148.4 831.9 148.3 834.4 148.3 836.9 148.3 839.4 148.2 841.9 148.2 844.4 148.2 846.9 148.1 849.4 148.1 851.9 148.1 854.4 148.0 856.9 148.0 859.4 147.9 861.9 147.9 864.4 147.9 866.9 147.9 869.4 147.8 871.9 147.8 874.4 147.8 877.0 147.7 879.5 147.7 882.0 147.7 884.5 147.6 887.0 147.6 889.5 147.6 892.0 147.6 894.6 147.5 897.1 147.5 899.6 147.5 902.1 147.5 904.6 147.4 907.2 147.4 909.7 147.4 912.2 147.4 914.7 147.4 917.3 147.3 919.8 147.3 922.3 147.3 924.9 147.3 927.4 147.3 929.9 147.2 932.5 147.2 935.0 147.2 937.5 147.2 940.1 147.2 942.6 147.2 945.2 147.2 947.7 147.1 950.3 147.1 952.8 147.1 955.3 147.1 957.9 147.1 960.4 147.1 963.0 147.1 965.5 147.1 968.1 147.2 970.6 147.2 973.2 147.2 975.7 147.2 978.2 147.3 980.8 147.3 983.3 147.4 985.8 147.5 988.4 147.5 990.9 147.6 993.4 147.7 996.0 147.8 998.5 147.9 1001.0 148.1 1003.5 148.2 1006.1 148.3 1008.6 148.5 1011.1 148.7 1013.6 148.9 1016.1 149.1 1018.6 149.3 1021.1 149.5 1023.6 149.8 1026.0 150.0 1028.5 150.3 1031.0 150.6 1033.5 150.9 1035.9 151.2 1038.4 151.6 1040.8 152.0 1043.3 152.3 1045.7 152.7 1048.2 153.2 1050.6 153.6 1053.0 154.1 1055.4 154.6 1057.8 155.1 1060.2 155.6 1062.6 156.1 1065.0 156.7 1067.4 157.3 1069.8 157.9 1072.1 158.6 1074.5 159.2 1076.8 159.9 1079.1 160.6 1081.5 161.4 1083.8 162.2 1086.1 163.0 1088.3 163.8 1090.6 164.6 1092.9 165.5 1095.1 166.4 1097.3 167.4 1099.5 168.3 1101.7 169.3 1103.9 170.4 1106.0 171.4 1108.2 172.5 1110.3 173.6 1112.4 174.8 1114.5 176.0 1116.6 177.2 1118.6 178.5 1120.6 179.8 1122.6 181.1 1124.6 182.4 1126.6 183.8 1128.5 185.3 1130.4 186.7 1132.3 188.2 1134.2 189.8 1136.0 191.3 1137.8 193.0 1139.6 194.6 1141.4 196.3 1143.1 198.0 1144.8 199.8 1146.5 201.6 1148.2 203.4 1149.8 205.2 1151.5 207.1 1153.1 209.0 1154.7 210.9 1156.2 212.9 1157.8 214.9 1159.3 216.9 1160.8 218.9 1162.3 221.0 1163.8 223.0 1165.2 225.1 1166.7 227.2 1168.1 229.4 1169.5 231.5 1170.9 233.7 1172.3 235.9 1173.6 238.1 1175.0 240.3 1176.3 242.5 1177.6 244.7 1178.9 247.0 1180.2 249.2 1181.5 251.5 1182.7 253.8 1184.0 256.1 1185.2 258.3 1186.5 260.6 1187.7 262.9 1188.9 265.2 1190.1 267.5 1191.3 269.8 1192.4 272.1 1193.6 274.4 1194.8 276.7 1195.9 279.0 1197.1 281.3 1198.2 283.6 1199.4 285.9 1200.5 288.2 1201.6 290.5 1202.7 292.7 1203.8 295.0 1204.9 297.3 1206.0 299.6 1207.1 301.8 1208.2 304.1 1209.2 306.4 1210.3 308.7 1211.3 310.9 1212.4 313.2 1213.4 315.5 1214.5 317.7 1215.5 320.0 1216.5 322.3 1217.6 324.5 1218.6 326.8 1219.6 329.0 1220.6 331.3 1221.6 333.6 1222.6 335.8 1223.6 338.1 1224.6 340.4 1225.6 342.6 1226.6 344.9 1227.5 347.1 1228.5 349.4 1229.5 351.7 1230.4 353.9 1231.4 356.2 1232.3 358.4 1233.3 360.7 1234.3 363.0 1235.2 365.2 1236.1 367.5 1237.1 369.8 1238.0 372.0 1239.0 374.3 1239.9 376.6 1240.8 378.8 1241.7 381.1 1242.7 383.4 1243.6 385.7 1244.5 388.0 1245.4 390.2 1246.3 392.5 1247.3 394.8 1248.2 397.1 1249.1 399.4 1250.0 401.7 1250.9 404.0 1251.8 406.3 1252.7 408.5 1253.6 410.8 1254.5 413.2 1255.4 415.5 1256.3 417.8 1257.2 420.1 1258.1 422.4 1259.0 424.7 1259.9 427.0 1260.8 429.3 1261.7 431.6 1262.6 434.0 1263.5 436.3 1264.4 438.6 1265.3 440.9 1266.2 443.3 1267.1 445.6 1268.0 447.9 1268.9 450.2 1269.7 452.6 1270.6 454.9 1271.5 457.2 1272.4 459.6 1273.3 461.9 1274.1 464.3 1275.0 466.6 1275.9 468.9 1276.8 471.3 1277.6 473.6 1278.5 476.0 1279.4 478.3 1280.2 480.7 1281.1 483.0 1282.0 485.4 1282.8 487.7 1283.7 490.1 1284.6 492.4 1285.4 494.8 1286.3 497.1 1287.2 499.5 1288.0 501.8 1288.9 504.2 1289.7 506.5 1290.6 508.9 1291.4 511.3 1292.3 513.6 1293.1 516.0 1294.0 518.3 1294.8 520.7 1295.7 523.1 1296.5 525.4 1297.4 527.8 1298.2 530.1 1299.1 532.5 1299.9 534.9 1300.7 537.2 1301.6 539.6 1302.4 541.9 1303.3 544.3 1304.1 546.7 1304.9 549.0 1305.8 551.4 1306.6 553.7 1307.4 556.1 1308.3 558.5 1309.1 560.8 1310.0 563.2 1310.8 565.6 1311.6 567.9 1312.5 570.3 1313.3 572.6 1314.2 575.0 1315.0 577.3 1315.8 579.7 1316.7 582.1 1317.5 584.4 1318.4 586.8 1319.2 589.1 1320.1 591.5 1320.9 593.8 1321.8 596.2 1322.6 598.5 1323.5 600.9 1324.3 603.2 1325.2 605.6 1326.1 607.9 1326.9 610.3 1327.8 612.6 1328.7 615.0 1329.5 617.3 1330.4 619.7 1331.3 622.0 1332.2 624.4 1333.1 626.7 1334.0 629.0 1334.8 631.4 1335.7 633.7 1336.6 636.0 1337.5 638.4 1338.4 640.7 1339.3 643.0 1340.3 645.4 1341.2 647.7 1342.1 650.0 1343.0 652.3 1343.9 654.7 1344.9 657.0 1345.8 659.3 1346.8 661.6 1347.7 663.9 1348.7 666.2 1349.6 668.5 1350.6 670.8 1351.6 673.1 1352.6 675.4 1353.6 677.7 1354.6 680.0 1355.6 682.3 1356.6 684.5 1357.6 686.8 1358.7 689.1 1359.7 691.3 1360.8 693.6 1361.9 695.8 1363.0 698.0 1364.1 700.2 1365.2 702.5 1366.3 704.7 1367.5 706.9 1368.6 709.0 1369.8 711.2 1371.0 713.4 1372.2 715.6 1373.4 717.7 1374.7 719.8 1375.9 722.0 1377.2 724.1 1378.5 726.2 1379.8 728.3 1381.2 730.3 1382.5 732.4 1383.9 734.5 1385.3 736.5 1386.7 738.5 1388.2 740.5 1389.6 742.5 1391.1 744.5 1392.6 746.5 1394.1 748.4 1395.7 750.4 1397.3 752.3 1398.8 754.2 1400.5 756.1 1402.1 758.0 1403.7 759.8 1405.4 761.7 1407.1 763.5 1408.8 765.3 1410.5 767.1 1412.3 768.8 1414.0 770.6 1415.8 772.3 1417.6 774.0 1419.4 775.7 1421.3 777.4 1423.1 779.0 1425.0 780.6 1426.9 782.2 1428.8 783.8 1430.8 785.4 1432.7 786.9 1434.7 788.5 1436.6 789.9 1438.6 791.4 1440.7 792.9 1442.7 794.3 1444.7 795.7 1446.8 797.1 1448.9 798.4 1450.9 799.8 1453.1 801.1 1455.2 802.4 1457.3 803.6 1459.4 804.9 1461.6 806.1 1463.8 807.3 1466.0 808.5 1468.2 809.6 1470.4 810.8 1472.6 811.9 1474.8 813.0 1477.0 814.1 1479.3 815.2 1481.5 816.2 1483.8 817.3 1486.1 818.3 1488.3 819.3 1490.6 820.3 1492.9 821.3 1495.2 822.3 1497.5 823.3 1499.8 824.2 1502.2 825.1 1504.5 826.1 1506.8 827.0 1509.1 827.9 1511.5 828.8 1513.8 829.7 1516.1 830.6 1518.5 831.4 1520.8 832.3 1523.2 833.2 1525.5 834.0 1527.9 834.8 1530.3 835.7 1532.6 836.5 1535.0 837.3 1537.4 838.1 1539.8 838.9 1542.1 839.7 1544.5 840.5 1546.9 841.2 1549.3 842.0 1551.7 842.7 1554.1 843.5 1556.5 844.2 1558.9 845.0 1561.3 845.7 1563.7 846.4 1566.1 847.1 1568.5 847.8 1570.9 848.5 1573.3 849.2 1575.7 849.9 1578.1 850.6 1580.6 851.2 1583.0 851.9 1585.4 852.6 1587.8 853.2 1590.2 853.9 1592.7 854.5 1595.1 855.2 1597.5 855.8 1599.9 856.4 1602.4 857.0 1604.8 857.7 1607.2 858.3 1609.6 858.9 1612.1 859.5 1614.5 860.1 1616.9 860.7 1619.4 861.3 1621.8 861.9 1624.2 862.5 1626.7 863.0 1629.1 863.6 1631.5 864.2 1634.0 864.8 1636.4 865.3 1638.8 865.9 1641.2 866.5 1643.7 867.0 1646.1 867.6 1648.5 868.2 1651.0 868.7 1653.4 869.3 1655.8 869.8 1658.2 870.4 1660.7 870.9 1663.1 871.4 1665.5 872.0 1668.0 872.5 1670.4 873.1 1672.8 873.6 1675.2 874.1 1677.7 874.7 1680.1 875.2 1682.5 875.7 1684.9 876.3 1687.4 876.8 1689.8 877.3 1692.2 877.9 1694.7 878.4 1697.1 878.9 1699.5 879.4 1701.9 880.0 1704.4 880.5 1706.8 881.0 1709.2 881.6 1711.6 882.1 1714.1 882.6 1716.5 883.2 1718.9 883.7 1721.4 884.2 1723.8 884.7 1726.2 885.3 1728.6 885.8 1731.1 886.4 1733.5 886.9 1735.9 887.4 1738.3 888.0 1740.8 888.5 1743.2 889.1 1745.6 889.6 1748.1 890.1 1750.5 890.7 1752.9 891.3 1755.3 891.8 1757.8 892.4 1760.2 892.9 1762.6 893.5 1765.1 894.1 1767.5 894.6 1769.9 895.2 1772.4 895.8 1774.8 896.3 1777.2 896.9 1779.7 897.5 1782.1 898.1 1784.5 898.7 1787.0 899.3 1789.4 899.9 1791.8 900.5 1794.3 901.1 1796.7 901.7 1799.1 902.3 1801.6 902.9 1804.0 903.5 1806.4 904.1 1808.9 904.7 1811.3 905.3 1813.8 905.9 1816.2 906.5 1818.6 907.1 1821.1 907.7 1823.5 908.3 1826.0 908.9 1828.4 909.5 1830.9 910.1 1833.3 910.6 1835.7 911.2 1838.2 911.8 1840.6 912.3 1843.1 912.9 1845.5 913.4 1848.0 913.9 1850.4 914.4 1852.9 915.0 1855.3 915.5 1857.8 916.0 1860.2 916.4 1862.7 916.9 1865.1 917.4 1867.6 917.8 1870.0 918.3 1872.5 918.7 1874.9 919.1 1877.4 919.5 1879.8 919.9 1882.3 920.2 1884.8 920.6 1887.2 920.9 1889.7 921.2 1892.1 921.5 1894.6 921.8 1897.1 922.1 1899.5 922.3 1902.0 922.6 1904.4 922.8 1906.9 923.0 1909.4 923.2 1911.8 923.3" fill="none" stroke="#0070e0" stroke-width="11.5" stroke-linejoin="round" />
<path d="M394 152L397 147.5L399 146.4L402 149.5L404 150.5L428 150.5L431 155L431 168L429 177L419 177.5L411 177L406 181.5L402 178L397 175L394 172Z" fill="#0070e0"/>
<path d="M1633 857L1638 853.5L1648 852.5L1656 855L1660 862L1662 871L1659 879L1652 880.5L1648 877L1640 874L1633 869Z" fill="#0070e0"/>
</g>
<rect x="329.4" y="31.65" width="1592.1" height="1277.9499999999998" fill="none" stroke="#000" stroke-width="12.6"/>
<path d="M304.1 1180.5H329.4 M304.1 1010.2H329.4 M304.1 840.0H329.4 M304.1 669.8H329.4 M304.1 499.5H329.4 M304.1 329.2H329.4 M304.1 159.0H329.4 M318.1 1265.6H329.4 M318.1 1095.4H329.4 M318.1 925.1H329.4 M318.1 754.9H329.4 M318.1 584.6H329.4 M318.1 414.4H329.4 M318.1 244.1H329.4 M318.1 73.9H329.4 M557.8 1309.6V1334.4 M1012.0 1309.6V1334.4 M1466.3 1309.6V1334.4 M1921.5 1309.6V1334.4 M329.4 1309.6V1321.9 M784.9 1309.6V1321.9 M1239.1 1309.6V1321.9 M1693.4 1309.6V1321.9" stroke="#000" stroke-width="12.2" fill="none"/>
<rect x="329.5" y="101.5" width="8" height="16.5" fill="#505050"/>
<g font-family="&apos;Liberation Serif&apos;, serif" font-weight="bold" font-size="80" fill="#000">
<text x="288.7" y="1201.9" text-anchor="end">40</text>
<text x="288.7" y="1031.6" text-anchor="end">50</text>
<text x="288.7" y="861.4" text-anchor="end">60</text>
<text x="288.7" y="691.1" text-anchor="end">70</text>
<text x="288.7" y="520.9" text-anchor="end">80</text>
<text x="288.7" y="350.6" text-anchor="end">90</text>
<text x="288.7" y="180.4" text-anchor="end">100</text>
<text x="556.8" y="1410.8" text-anchor="middle">200</text>
<text x="1011.0" y="1410.8" text-anchor="middle">400</text>
<text x="1465.3" y="1410.8" text-anchor="middle">600</text>
<text x="1920.5" y="1410.8" text-anchor="middle">800</text>
</g>
<text transform="translate(834.2 1540.3) scale(0.962 1)" font-family="&apos;Liberation Serif&apos;, serif" font-weight="bold" font-size="82.6">Temperature(°C)</text>
<text transform="translate(91.5 910.6) rotate(-90) scale(0.958 1)" font-family="&apos;Liberation Serif&apos;, serif" font-weight="bold" font-size="82.6">Weight Loss(%)</text>
<rect x="1287" y="104.7" width="172.2" height="10.4" rx="1.5" fill="#505050"/>
<text transform="translate(1471.2 133.8) scale(0.963 1)" font-family="&apos;Liberation Serif&apos;, serif" font-weight="bold" font-size="75.2">5%, 20wt%</text>
<rect x="1287" y="196.2" width="172.2" height="10.4" rx="1.5" fill="#ff3f3f"/>
<text transform="translate(1471.2 225.3) scale(0.963 1)" font-family="&apos;Liberation Serif&apos;, serif" font-weight="bold" font-size="75.2">10%, 20wt%</text>
<rect x="1287" y="285.8" width="172.2" height="10.4" rx="1.5" fill="#0070e0"/>
<text transform="translate(1471.2 316.7) scale(0.963 1)" font-family="&apos;Liberation Serif&apos;, serif" font-weight="bold" font-size="75.2">10%, 25wt%</text>
</svg>
</body></html>
